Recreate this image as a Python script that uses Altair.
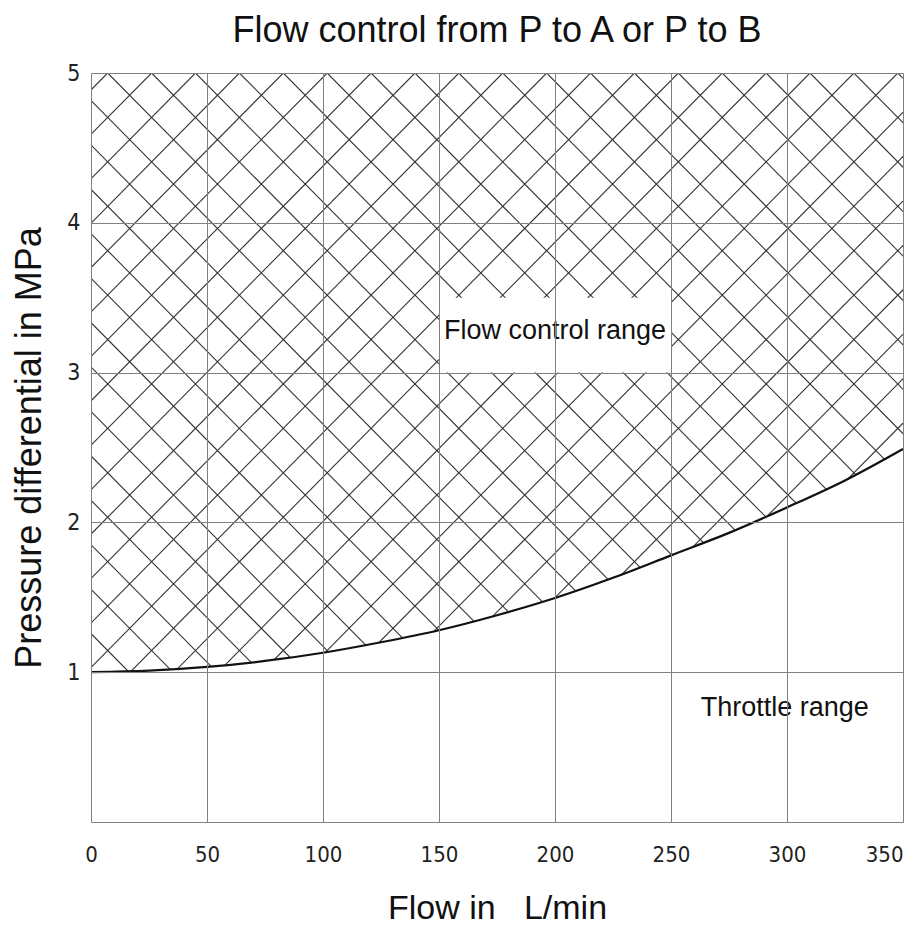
import altair as alt
import numpy as np
import pandas as pd

# Curve: boundary between flow control range and throttle range
flow = [0, 25, 50, 75, 100, 125, 150, 175, 200, 225, 250, 275, 300, 325, 350]
pressure = [1.00, 1.01, 1.035, 1.075, 1.13, 1.20, 1.28, 1.38, 1.495, 1.63, 1.78, 1.93, 2.10, 2.28, 2.49]

x_ticks = [0, 50, 100, 150, 200, 250, 300, 350]
y_grid = [0, 0.5, 1, 1.5, 2, 2.5, 3, 3.5, 4, 4.5, 5]
y_labels = [1, 2, 3, 4, 5]

labels_text = ["Flow control range", "Throttle range"]
labels_x = [200, 299]
labels_y = [3.28, 0.76]

curve = pd.DataFrame({"flow": flow, "p": pressure})

# decorative cross-hatch (diagonal lines through lattice points on the top edge)
period = 18.92
run = 319.0
starts = np.arange(7.2 - 20 * period, 350 + run + period, period)
rows = []
for s in starts:
    rows.append({"x": s, "y": 5.0, "x2": s - run, "y2": 0.0})
    rows.append({"x": s, "y": 5.0, "x2": s + run, "y2": 0.0})
hatch = pd.DataFrame(rows)

box = pd.DataFrame({"x": [150], "x2": [250], "y": [3.0], "y2": [3.5]})
labels = pd.DataFrame({"t": labels_text, "x": labels_x, "y": labels_y})

xs = alt.Scale(domain=[0, 350], nice=False, zero=False)
ys = alt.Scale(domain=[0, 5], nice=False, zero=False)

tick_font = "DejaVu Sans Condensed"

xaxis = alt.Axis(values=x_ticks, grid=True, gridColor="#808080", gridWidth=1,
                 ticks=False, domain=False, format="d", labelFont=tick_font,
                 labelFontSize=22, labelColor="#222", labelPadding=22,
                 labelAlign={"condition": {"test": "datum.value == 350", "value": "right"},
                             "value": "center"},
                 title="Flow in\u00a0\u00a0\u00a0L/min", titleFont="Liberation Sans",
                 titleFontSize=34, titleFontWeight="normal", titleColor="#111",
                 titlePadding=26, zindex=1, labelFlush=False)
yaxis = alt.Axis(values=y_grid, grid=True, gridColor="#808080", gridWidth=1,
                 ticks=False, domain=False, format="d", labelFont=tick_font,
                 labelFontSize=23, labelColor="#222", labelPadding=11,
                 labelExpr="datum.value >= 1 && datum.value % 1 == 0 ? datum.label : ''",
                 title="Pressure differential in MPa", titleFont="Liberation Sans",
                 titleFontSize=36, titleFontWeight="normal", titleColor="#111",
                 titlePadding=18, zindex=1, labelFlush=False)

hatch_layer = alt.Chart(hatch).mark_rule(color="#333333", strokeWidth=1.1, clip=True).encode(
    x=alt.X("x:Q", scale=xs, axis=xaxis),
    y=alt.Y("y:Q", scale=ys, axis=yaxis),
    x2="x2:Q", y2="y2:Q")

white_below = alt.Chart(curve).mark_area(color="white", opacity=1, clip=True).encode(
    x=alt.X("flow:Q", scale=xs), y=alt.Y("p:Q", scale=ys), y2=alt.datum(0))

box_layer = alt.Chart(box).mark_rect(color="white").encode(
    x=alt.X("x:Q", scale=xs), x2="x2:Q", y=alt.Y("y:Q", scale=ys), y2="y2:Q")

text_layer = alt.Chart(labels).mark_text(font="Liberation Sans", fontSize=27,
                                         color="#111").encode(
    x=alt.X("x:Q", scale=xs), y=alt.Y("y:Q", scale=ys), text="t:N")

line_layer = alt.Chart(curve).mark_line(color="#111", strokeWidth=2.2,
                                        interpolate="monotone").encode(
    x=alt.X("flow:Q", scale=xs), y=alt.Y("p:Q", scale=ys))

chart = alt.layer(hatch_layer, white_below, box_layer, text_layer, line_layer).properties(
    width=812, height=749,
    title=alt.TitleParams("Flow control from P to A or P to B", font="Liberation Sans",
                          fontSize=36, fontWeight="normal", color="#111", offset=12),
    autosize=alt.AutoSizeParams(type="none"),
    padding={"left": 83, "top": 65, "right": 4, "bottom": 105},
).configure_view(stroke="#777", strokeWidth=1.2).configure(background="white")

chart.save("out.html", embed_options={"renderer": "svg", "actions": False})
